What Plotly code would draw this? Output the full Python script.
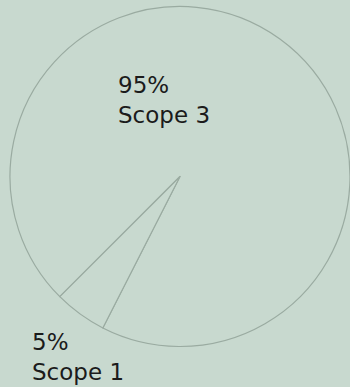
import plotly.graph_objects as go

labels = ["Scope 3", "Scope 1"]
values = [95, 5]
pct_text = ["95%", "5%"]

bg = "#c8d9cf"
line_col = "#9aaba1"
text_col = "#1b1b1b"

fig = go.Figure(go.Pie(
    labels=labels,
    values=values,
    sort=False,
    direction="clockwise",
    rotation=225,
    textinfo="none",
    hoverinfo="label+percent",
    marker=dict(colors=[bg, bg], line=dict(color=line_col, width=1.2)),
    domain=dict(x=[0.0286, 1.0], y=[0.1047, 0.9832]),
    showlegend=False,
))

label_pos = [(0.331, 0.818), (0.0866, 0.156)]
for (x, y), p, lab in zip(label_pos, pct_text, labels):
    fig.add_annotation(
        x=x, y=y, xref="paper", yref="paper",
        xanchor="left", yanchor="top", align="left",
        text=f"{p}<br>{lab}", showarrow=False,
        font=dict(family="DejaVu Sans", size=23, color=text_col),
    )

fig.update_layout(
    width=350, height=387,
    margin=dict(l=0, r=0, t=0, b=0),
    paper_bgcolor=bg, plot_bgcolor=bg,
)

fig.write_html(
    "out.html",
    config={"displayModeBar": False},
    post_script="document.body.style.margin='0';document.body.style.background='" + bg + "';",
)
